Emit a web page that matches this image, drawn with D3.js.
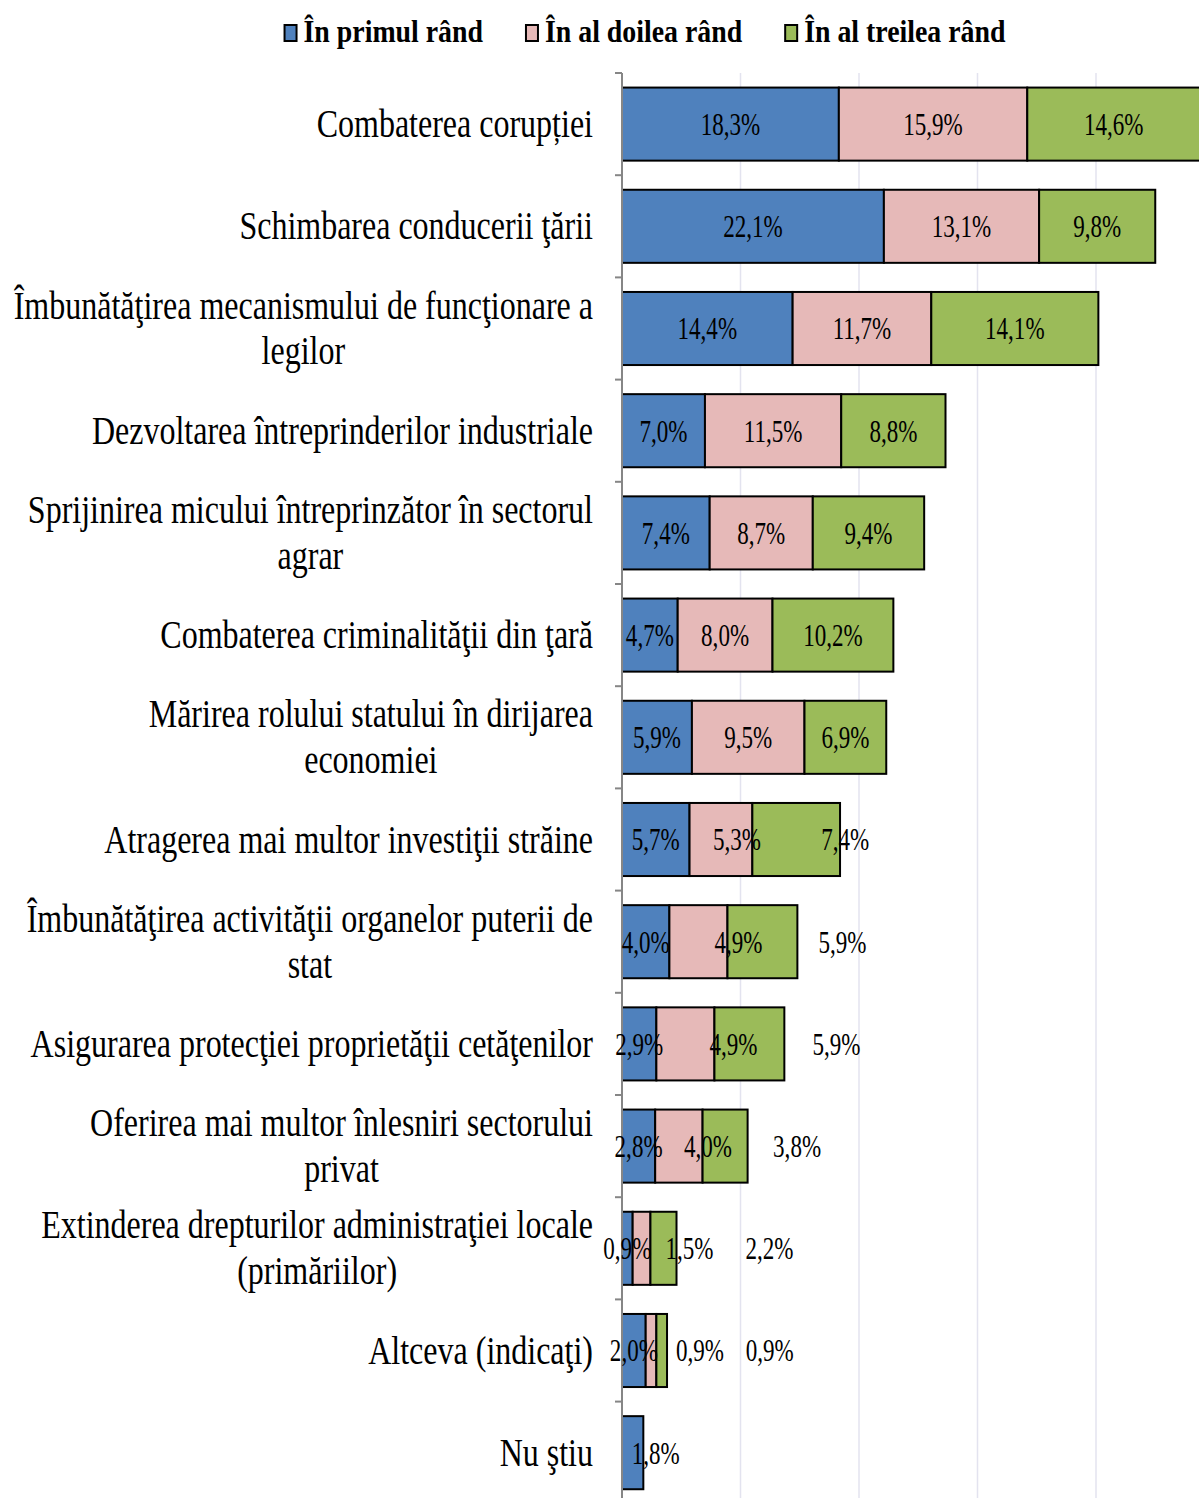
<!DOCTYPE html>
<html>
<head>
<meta charset="utf-8">
<script src="https://cdn.jsdelivr.net/npm/d3@7"></script>
<style>
  html, body { margin: 0; padding: 0; background: #fff; }
  svg { display: block; }
</style>
</head>
<body>
<div id="chart"></div>
<script>
// categories, as wrapped in the original (line breaks with \n)
const categories = [
  "Combaterea corupției",
  "Schimbarea conducerii ţării",
  "Îmbunătăţirea mecanismului de funcţionare a\nlegilor",
  "Dezvoltarea întreprinderilor industriale",
  "Sprijinirea micului întreprinzător în sectorul\nagrar",
  "Combaterea criminalităţii din ţară",
  "Mărirea rolului statului în dirijarea\neconomiei",
  "Atragerea mai multor investiţii străine",
  "Îmbunătăţirea activităţii organelor puterii de\nstat",
  "Asigurarea protecţiei proprietăţii cetăţenilor",
  "Oferirea mai multor înlesniri sectorului\nprivat",
  "Extinderea drepturilor administraţiei locale\n(primăriilor)",
  "Altceva (indicaţi)",
  "Nu ştiu"
];

const seriesNames = ["În primul rând", "În al doilea rând", "În al treilea rând"];

const primul  = [18.3, 22.1, 14.4, 7.0, 7.4, 4.7, 5.9, 5.7, 4.0, 2.9, 2.8, 0.9, 2.0, 1.8];
const doilea  = [15.9, 13.1, 11.7, 11.5, 8.7, 8.0, 9.5, 5.3, 4.9, 4.9, 4.0, 1.5, 0.9, 0];
const treilea = [14.6, 9.8, 14.1, 8.8, 9.4, 10.2, 6.9, 7.4, 5.9, 5.9, 3.8, 2.2, 0.9, 0];

const xTicks = [0, 10, 20, 30, 40];

// hand-placed label shifts from the original (px, per row / series)
const labelNudge = [
  [0, 0, 0], [0, 0, 0], [0, 0, 0], [0, 0, 0], [0, 0, 0], [0, 0, 0], [0, 0, 0],
  [0, 16, 49], [0, 40, 80], [0, 48, 87], [0, 29, 72], [0, 48, 106], [0, 49, 108],
  [23, 0, 0]
];

const colors = ["#4F81BD", "#E6B9B8", "#9BBB59"];

const W = 1199, H = 1498;
const fontFam = "'Liberation Serif', 'Times New Roman', serif";
const catFont = 40, catScale = 0.8;
const lblFont = 32, lblScale = 0.72;
const legFont = 32, legScale = 0.87;

const svg = d3.select("#chart").append("svg")
    .attr("width", W)
    .attr("height", H)
    .attr("font-family", fontFam);

const rows = categories.map((c, i) => ({
  cat: c, i: i,
  s0: primul[i], s1: doilea[i], s2: treilea[i]
}));

const stacked = d3.stack().keys(["s0", "s1", "s2"])(rows);

const x = d3.scaleLinear()
    .domain([0, 50])
    .range([622, 1214.5]);

const y = d3.scaleBand()
    .domain(categories)
    .range([73, 73 + 14 * 102.2])
    .paddingInner(0.285)
    .paddingOuter(0.1425);

// gridlines
svg.append("g")
  .selectAll("line")
  .data(xTicks.filter(d => d > 0))
  .enter().append("line")
    .attr("x1", d => x(d)).attr("x2", d => x(d))
    .attr("y1", 73).attr("y2", H)
    .attr("stroke", "#E3E3EF")
    .attr("stroke-width", 1.5);

// bars
const layer = svg.append("g")
  .selectAll("g")
  .data(stacked)
  .enter().append("g")
    .attr("fill", (d, k) => colors[k]);

layer.selectAll("rect")
  .data(d => d.filter(p => p[1] - p[0] > 0))
  .enter().append("rect")
    .attr("x", d => x(d[0]))
    .attr("y", d => y(d.data.cat))
    .attr("width", d => x(d[1]) - x(d[0]))
    .attr("height", y.bandwidth())
    .attr("stroke", "#000")
    .attr("stroke-width", 2);

// axis line + ticks at category boundaries
const step = y.step();
const axisG = svg.append("g");
axisG.append("line")
    .attr("x1", 622).attr("x2", 622)
    .attr("y1", 73).attr("y2", H)
    .attr("stroke", "#868686").attr("stroke-width", 2);
axisG.selectAll(".tk")
  .data(d3.range(categories.length + 1))
  .enter().append("line")
    .attr("class", "tk")
    .attr("x1", 615).attr("x2", 622)
    .attr("y1", i => 73 + i * step).attr("y2", i => 73 + i * step)
    .attr("stroke", "#868686").attr("stroke-width", 2);

// data labels
stacked.forEach((ser, k) => {
  svg.append("g").selectAll("text")
    .data(ser.filter(p => p[1] - p[0] > 0))
    .enter().append("text")
      .attr("transform", d => {
        const cx = x((d[0] + d[1]) / 2) + labelNudge[d.data.i][k];
        const cy = y(d.data.cat) + y.bandwidth() / 2 + lblFont * 0.34;
        return `translate(${cx},${cy}) scale(${lblScale},1)`;
      })
      .attr("text-anchor", "middle")
      .attr("font-size", lblFont)
      .attr("fill", "#000")
      .text(d => (d[1] - d[0]).toFixed(1).replace(".", ",") + "%");
});

// category labels (wrapped, centred block, right aligned to the axis)
const labelRight = 593;
const catG = svg.append("g");
rows.forEach(r => {
  const lines = r.cat.split("\n");
  const g = catG.append("g");
  const texts = lines.map((ln, j) => g.append("text")
      .attr("text-anchor", "middle")
      .attr("font-size", catFont)
      .attr("fill", "#000")
      .attr("y", j * 46)
      .text(ln));
  const maxW = d3.max(texts, t => t.node().getComputedTextLength()) * catScale;
  const cy = y(r.cat) + y.bandwidth() / 2 + 13 - (lines.length - 1) * 23;
  g.attr("transform", `translate(${labelRight - maxW / 2},${cy}) scale(${catScale},1)`);
});

// legend
const legBase = 42;
const leg = svg.append("g");
const items = seriesNames.map((name, k) => {
  const g = leg.append("g");
  g.append("rect")
    .attr("x", 0).attr("y", -17)
    .attr("width", 12).attr("height", 16)
    .attr("fill", colors[k])
    .attr("stroke", "#000").attr("stroke-width", 2);
  const t = g.append("text")
    .attr("transform", `translate(19,0) scale(${legScale},1)`)
    .attr("font-size", legFont)
    .attr("font-weight", "bold")
    .attr("fill", "#000")
    .text(name);
  return { g, w: 19 + t.node().getComputedTextLength() * legScale };
});
const gap = 43;
const total = d3.sum(items, d => d.w) + gap * (items.length - 1);
let lx = 645 - total / 2;
items.forEach(it => {
  it.g.attr("transform", `translate(${lx},${legBase})`);
  lx += it.w + gap;
});
</script>
</body>
</html>
